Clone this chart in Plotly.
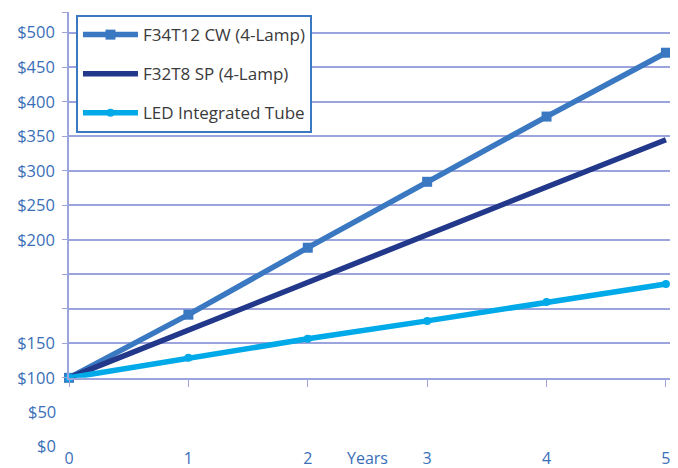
import plotly.graph_objects as go

# ---- data (values in the chart's own row units: $0=0, $50=1, $100=2, ...) ----
years = [0, 1, 2, 3, 4, 5]
f34t12 = [2.0, 3.83, 5.77, 7.68, 9.57, 11.42]
f32t8 = [2.0, 3.39, 4.77, 6.15, 7.53, 8.90]
led = [2.0, 2.58, 3.13, 3.65, 4.20, 4.72]

series_names = ["F34T12 CW (4-Lamp)", "F32T8 SP (4-Lamp)", "LED Integrated Tube"]

upper_tickvals = [2, 3, 4, 5, 6, 7, 8, 9, 10, 11, 12, 12.6]
upper_ticktext = ["$100", "$150", "", "", "$200", "$250", "$300", "$350",
                  "$400", "$450", "$500", ""]
lower_tickvals = [0, 1]
lower_ticktext = ["$0", "$50"]
x_tickvals = [0, 1, 2, 2.5, 3, 4, 5]
x_ticktext = ["0", "1", "2", "Years", "3", "4", "5"]

# ---- styles ----
FONT = "Open Sans"
LABEL_BLUE = "#3a6fb8"
GRID = "#9ba4dc"
C1, C2, C3 = "#3a78c2", "#22388a", "#00a9e8"

y_low, y_split, y_top = -0.12, 2, 12.6
split_frac = (y_split - y_low) / (y_top - y_low)

fig = go.Figure()
fig.add_trace(go.Scatter(
    x=years, y=f34t12, name=series_names[0], mode="lines+markers",
    line=dict(color=C1, width=5.5), marker=dict(symbol="square", size=10, color=C1),
    cliponaxis=False, legendgroup="a"))
fig.add_trace(go.Scatter(
    x=years, y=f32t8, name=series_names[1], mode="lines",
    line=dict(color=C2, width=5.5), cliponaxis=False, legendgroup="b"))
fig.add_trace(go.Scatter(
    x=years, y=led, name=series_names[2], mode="lines+markers",
    line=dict(color=C3, width=5.5), marker=dict(symbol="circle", size=8, color=C3),
    cliponaxis=False, legendgroup="c"))

# lower y labels ($0, $50) sit below the axis line, with no grid
for v, t in zip(lower_tickvals, lower_ticktext):
    fig.add_annotation(x=0, xref="paper",
                       y=split_frac * (v - y_low) / (y_split - y_low), yref="paper",
                       text=t, showarrow=False,
                       xanchor="right", yanchor="middle", xshift=-11, yshift=1,
                       font=dict(family=FONT, size=16.5, color=LABEL_BLUE))

xr = [0, 5.034]
fig.update_layout(
    width=678, height=468, autosize=False,
    margin=dict(l=61, r=16, t=4, b=25),
    paper_bgcolor="white", plot_bgcolor="white",
    font=dict(family=FONT, color=LABEL_BLUE, size=16),
    showlegend=True,
    legend=dict(
        x=0.0116, y=0.993, xanchor="left", yanchor="top",
        bgcolor="white", bordercolor="#3a78c0", borderwidth=2,
        font=dict(family=FONT, size=17, color="#3a3a3a"),
        tracegroupgap=14, traceorder="grouped", itemwidth=55,
    ),
    xaxis=dict(
        range=xr, anchor="y", showgrid=False, zeroline=False,
        showline=True, linecolor=GRID, linewidth=1.5,
        tickmode="array", tickvals=x_tickvals, ticktext=x_ticktext,
        ticks="", ticklabelstandoff=65,
        tickfont=dict(family=FONT, size=16, color=LABEL_BLUE),
        minor=dict(tickmode="array", tickvals=years, ticks="outside",
                   ticklen=7, tickcolor=GRID, tickwidth=1),
    ),
    yaxis=dict(
        domain=[split_frac, 1], range=[y_split, y_top], anchor="x",
        tickmode="array", tickvals=upper_tickvals, ticktext=upper_ticktext,
        showgrid=True, gridcolor=GRID, gridwidth=1.5, zeroline=False,
        showline=True, linecolor=GRID, linewidth=1.5,
        ticks="outside", ticklen=5, tickcolor=GRID, ticklabelstandoff=4,
        tickfont=dict(family=FONT, size=16.5, color=LABEL_BLUE),
    ),
)

fig.write_html("out.html")
